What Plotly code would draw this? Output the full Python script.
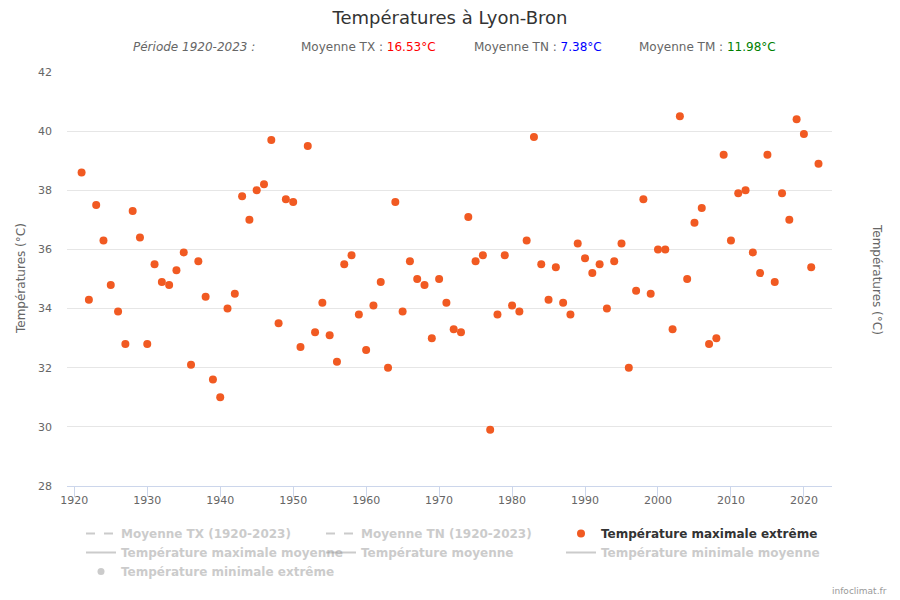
import plotly.graph_objects as go

# ---------------- data ----------------
years = list(range(1921, 2023))
tx_extreme = [
    38.6, 34.3, 37.5, 36.3, 34.8, 33.9, 32.8, 37.3, 36.4, 32.8,   # 1921-1930
    35.5, 34.9, 34.8, 35.3, 35.9, 32.1, 35.6, 34.4, 31.6, 31.0,   # 1931-1940
    34.0, 34.5, 37.8, 37.0, 38.0, 38.2, 39.7, 33.5, 37.7, 37.6,   # 1941-1950
    32.7, 39.5, 33.2, 34.2, 33.1, 32.2, 35.5, 35.8, 33.8, 32.6,   # 1951-1960
    34.1, 34.9, 32.0, 37.6, 33.9, 35.6, 35.0, 34.8, 33.0, 35.0,   # 1961-1970
    34.2, 33.3, 33.2, 37.1, 35.6, 35.8, 29.9, 33.8, 35.8, 34.1,   # 1971-1980
    33.9, 36.3, 39.8, 35.5, 34.3, 35.4, 34.2, 33.8, 36.2, 35.7,   # 1981-1990
    35.2, 35.5, 34.0, 35.6, 36.2, 32.0, 34.6, 37.7, 34.5, 36.0,   # 1991-2000
    36.0, 33.3, 40.5, 35.0, 36.9, 37.4, 32.8, 33.0, 39.2, 36.3,   # 2001-2010
    37.9, 38.0, 35.9, 35.2, 39.2, 34.9, 37.9, 37.0, 40.4, 39.9,   # 2011-2020
    35.4, 38.9,                                                    # 2021-2022
]
period_years = [1920, 2023]
mean_tx = 16.53
mean_tn = 7.38
mean_tm = 11.98
hidden_x = [None]   # series hidden in the reference (legend only)
hidden_y = [None]
y_ticks = [28, 30, 32, 34, 36, 38, 40, 42]

# ---------------- layout geometry (pixels) ----------------
W, H = 900, 600
L, R, T, B = 67, 68, 72, 114
PW, PH = W - L - R, H - T - B


def px_x(px):
    return (px - L) / PW


def px_y(py):
    return (H - B - py) / PH


FONT = "DejaVu Sans"
HID = "#999999"

fig = go.Figure()

# column 1 legend
fig.add_trace(go.Scatter(
    x=period_years, y=[mean_tx, mean_tx], mode="lines", visible="legendonly",
    legend="legend", name=f'<span style="color:{HID}">Moyenne TX (1920-2023)</span>',
    line=dict(color=HID, dash="dash", width=2)))
fig.add_trace(go.Scatter(
    x=hidden_x, y=hidden_y, mode="lines", visible="legendonly", legend="legend",
    name=f'<span style="color:{HID}">Température maximale moyenne</span>',
    line=dict(color=HID, width=2)))
fig.add_trace(go.Scatter(
    x=hidden_x, y=hidden_y, mode="markers", visible="legendonly", legend="legend",
    name=f'<span style="color:{HID}">Température minimale extrême</span>',
    marker=dict(color=HID, size=7)))
# column 2 legend
fig.add_trace(go.Scatter(
    x=period_years, y=[mean_tn, mean_tn], mode="lines", visible="legendonly",
    legend="legend2", name=f'<span style="color:{HID}">Moyenne TN (1920-2023)</span>',
    line=dict(color=HID, dash="dash", width=2)))
fig.add_trace(go.Scatter(
    x=hidden_x, y=hidden_y, mode="lines", visible="legendonly", legend="legend2",
    name=f'<span style="color:{HID}">Température moyenne</span>',
    line=dict(color=HID, width=2)))
# column 3 legend
fig.add_trace(go.Scatter(
    x=years, y=tx_extreme, mode="markers", legend="legend3",
    name='<span style="color:#333333">Température maximale extrême</span>',
    marker=dict(color="#F15A22", size=8, line=dict(width=0))))
fig.add_trace(go.Scatter(
    x=hidden_x, y=hidden_y, mode="lines", visible="legendonly", legend="legend3",
    name=f'<span style="color:{HID}">Température minimale moyenne</span>',
    line=dict(color=HID, width=2)))

axis_font = dict(family=FONT, size=11, color="#666666")


def legend_at(px_left):
    return dict(orientation="v", x=px_x(px_left), xanchor="left", y=px_y(519),
                yanchor="top", itemwidth=30, bgcolor="rgba(0,0,0,0)",
                maxheight=300, tracegroupgap=0, traceorder="normal",
                font=dict(family=FONT, size=12, color="#333333", weight="bold"))


fig.update_layout(
    width=W, height=H,
    margin=dict(l=L, r=R, t=T, b=B, autoexpand=False),
    paper_bgcolor="white", plot_bgcolor="white",
    font=dict(family=FONT, color="#333333"),
    showlegend=True,
    title=dict(text="Températures à Lyon-Bron", x=0.5, xref="container",
               y=1 - 18 / H, yref="container", yanchor="middle", xanchor="center",
               font=dict(family=FONT, size=18, color="#333333")),
    xaxis=dict(range=[1919.0, 2023.85], tick0=1920, dtick=10, showgrid=False,
               zeroline=False, showline=True, linecolor="#ccd6eb", linewidth=1,
               ticks="outside", ticklen=10, tickcolor="#ccd6eb", tickwidth=1,
               ticklabelstandoff=-6, tickfont=axis_font, fixedrange=True),
    yaxis=dict(range=[28, 42], tickvals=y_ticks, showgrid=True, gridcolor="#e6e6e6",
               gridwidth=1, zeroline=False, showline=False, ticks="",
               ticklabelstandoff=14, tickfont=axis_font),
    yaxis2=dict(range=[28, 42], tickvals=y_ticks, overlaying="y", side="right",
                showgrid=False, zeroline=False, showline=False, ticks="",
                ticklabelstandoff=18, tickfont=axis_font),
    legend=legend_at(81),
    legend2=legend_at(321),
    legend3=legend_at(561),
)

annotations = [
    dict(text="Températures (°C)", textangle=-90, x=px_x(21), y=px_y(279),
         font=dict(family=FONT, size=12, color="#666666")),
    dict(text="Températures (°C)", textangle=90, x=px_x(877), y=px_y(279),
         font=dict(family=FONT, size=12, color="#666666")),
    dict(text="<i>Période 1920-2023 :</i>", x=px_x(131), y=px_y(47), xanchor="left",
         font=dict(family=FONT, size=12, color="#666666")),
    dict(text=f'Moyenne TX : <span style="color:#ff0000">{mean_tx:.2f}°C</span>',
         x=px_x(299), y=px_y(47), xanchor="left",
         font=dict(family=FONT, size=12, color="#666666")),
    dict(text=f'Moyenne TN : <span style="color:#0000ff">{mean_tn:.2f}°C</span>',
         x=px_x(472), y=px_y(47), xanchor="left",
         font=dict(family=FONT, size=12, color="#666666")),
    dict(text=f'Moyenne TM : <span style="color:#008000">{mean_tm:.2f}°C</span>',
         x=px_x(637), y=px_y(47), xanchor="left",
         font=dict(family=FONT, size=12, color="#666666")),
    dict(text="infoclimat.fr", x=px_x(889), y=px_y(591), xanchor="right",
         font=dict(family=FONT, size=9, color="#999999")),
]
for a in annotations:
    a.setdefault("xanchor", "center")
    a.update(xref="paper", yref="paper", yanchor="middle", showarrow=False)
fig.update_layout(annotations=annotations)

fig.write_html("out.html",
               config={"displayModeBar": False},
               post_script="document.body.style.margin='0px';"
                           "document.body.style.overflow='hidden';")
